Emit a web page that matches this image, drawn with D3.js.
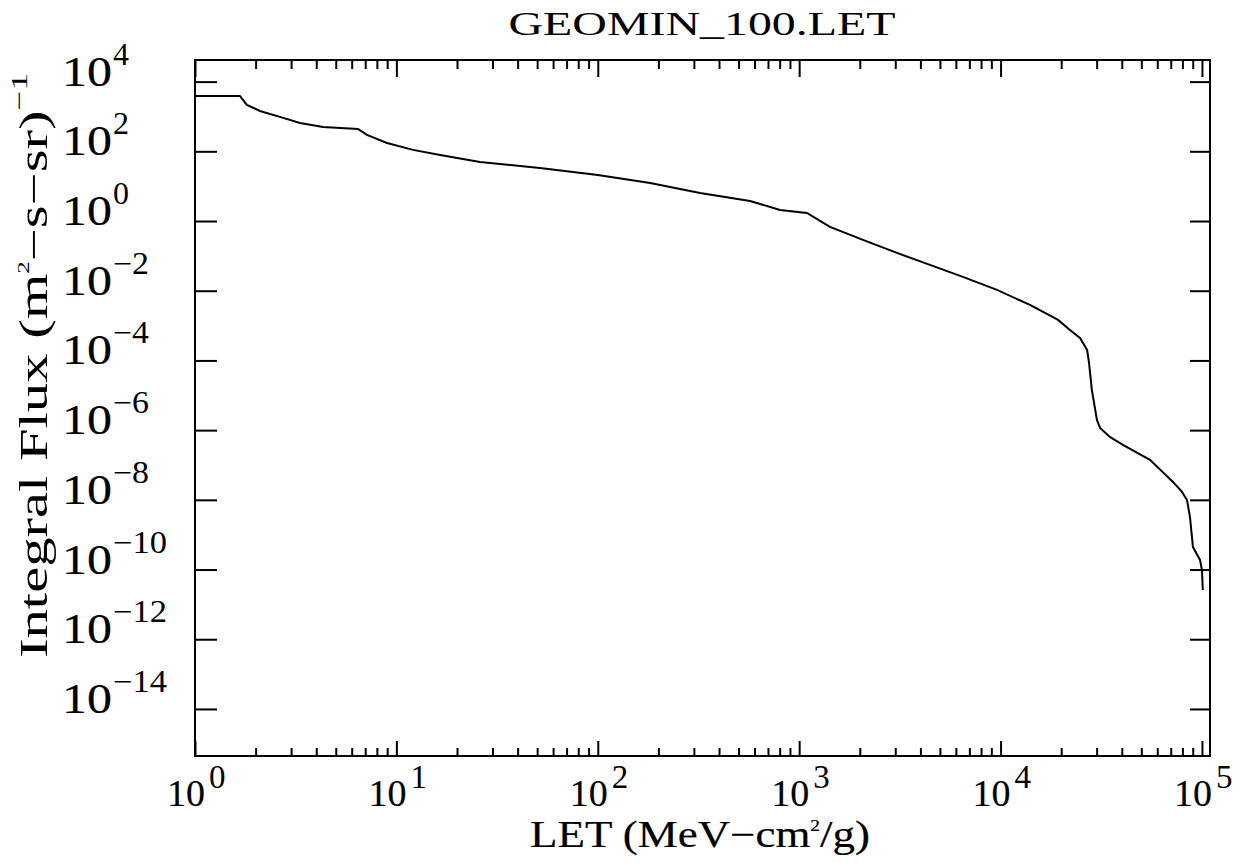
<!DOCTYPE html>
<html><head><meta charset="utf-8">
<script src="https://cdn.jsdelivr.net/npm/d3@7"></script>
<style>body{margin:0;background:#fff}</style>
</head><body><svg id="c" width="1249" height="863"></svg>
<script>
const letValues = [1, 1.67, 1.81, 2.10, 2.64, 3.32, 4.32, 6.45, 7.14, 8.98,
  12.1, 16.5, 26.0, 51.6, 100, 182, 322, 570, 803, 1093,
  1422, 2074, 3060, 4460, 6500, 9600, 14000, 19300, 22100, 24800, 26900, 27500,
  28400, 30100, 31200, 34900, 40500, 55200, 71800, 79600, 84300, 87200,
  90200, 97800, 100000, 101000];
const fluxValues = [3890, 3890, 2140, 1440, 971, 653, 501, 440, 296, 174,
  110, 78.9, 49.6, 33.4, 21.0, 12.4, 6.40, 3.77, 2.08, 1.71,
  0.677, 0.287, 0.1216, 0.0550, 0.0249, 0.01054, 3.91e-3, 1.45e-3, 7.5e-4, 4.43e-4, 2.0e-4, 8.47e-5,
  1.42e-5, 1.96e-6, 1.16e-6, 6.38e-7, 3.76e-7, 1.40e-7, 3.27e-8, 1.69e-8, 9.9e-9, 3.23e-9,
  4.45e-10, 1.89e-10, 9.7e-11, 2.6e-11];
const xMajorExps = [0, 1, 2, 3, 4, 5];
const yMajorExps = [4, 2, 0, -2, -4, -6, -8, -10, -12, -14];
const titleText = "GEOMIN_100.LET";

const svg = d3.select("#c");
const L = 195, R = 1210, T = 60, B = 756;
const font = "'Liberation Serif','DejaVu Serif',serif";
const x = d3.scaleLog().domain([1, Math.pow(10, 5.04)]).range([L, R]);
const y = d3.scaleLog().domain([Math.pow(10, -15.35), Math.pow(10, 4.62)]).range([B, T]);

const xMajor = xMajorExps.map(e => Math.pow(10, e));
const xMinor = [];
xMajorExps.forEach(e => { for (let k = 2; k <= 9; k++) { const v = k * Math.pow(10, e); if (v <= x.domain()[1]) xMinor.push(v); } });
const yMajor = yMajorExps.map(e => Math.pow(10, e));

function styleAxis(g) {
  g.select(".domain").remove();
  g.selectAll(".tick line").attr("stroke", "#000").attr("stroke-width", 2);
  g.selectAll(".tick text").remove();
}
svg.append("g").attr("transform", `translate(0,${B})`).call(d3.axisBottom(x).tickValues(xMajor).tickSize(-15).tickFormat("")).call(styleAxis);
svg.append("g").attr("transform", `translate(0,${B})`).call(d3.axisBottom(x).tickValues(xMinor).tickSize(-8).tickFormat("")).call(styleAxis);
svg.append("g").attr("transform", `translate(0,${T})`).call(d3.axisTop(x).tickValues(xMajor).tickSize(-17).tickFormat("")).call(styleAxis);
svg.append("g").attr("transform", `translate(0,${T})`).call(d3.axisTop(x).tickValues(xMinor).tickSize(-9).tickFormat("")).call(styleAxis);
svg.append("g").attr("transform", `translate(${L},0)`).call(d3.axisLeft(y).tickValues(yMajor).tickSize(-22).tickFormat("")).call(styleAxis);
svg.append("g").attr("transform", `translate(${R},0)`).call(d3.axisRight(y).tickValues(yMajor).tickSize(-20).tickFormat("")).call(styleAxis);

svg.append("rect").attr("x", L).attr("y", T).attr("width", R - L).attr("height", B - T)
  .attr("fill", "none").attr("stroke", "#000").attr("stroke-width", 2);

const fmtExp = e => (e < 0 ? "\u2212" + Math.abs(e) : String(e));

// y tick labels
yMajorExps.forEach(e => {
  const py = y(Math.pow(10, e));
  svg.append("text").attr("x", 62).attr("y", py + 4).attr("font-family", font).attr("font-size", 43)
    .attr("stroke", "#000").attr("stroke-width", 0.2)
    .attr("textLength", 50).attr("lengthAdjust", "spacingAndGlyphs").text("10");
  const s = fmtExp(e);
  svg.append("text").attr("x", 113).attr("y", py - 17).attr("font-family", font).attr("font-size", 31)
    .attr("textLength", s.length === 1 ? 16 : (s.length === 2 ? 36 : 54)).attr("lengthAdjust", "spacingAndGlyphs").text(s);
});
// x tick labels
xMajorExps.forEach(e => {
  const px = x(Math.pow(10, e));
  svg.append("text").attr("x", px + 10).attr("y", 806).attr("text-anchor", "end").attr("font-family", font)
    .attr("stroke", "#000").attr("stroke-width", 0.2)
    .attr("font-size", 38).attr("textLength", 38).attr("lengthAdjust", "spacingAndGlyphs").text("10");
  svg.append("text").attr("x", px + 14).attr("y", 788).attr("font-family", font).attr("font-size", 33)
    .text(fmtExp(e));
});

// title
svg.append("text").attr("x", 702).attr("y", 35).attr("text-anchor", "middle").attr("font-family", font)
  .attr("font-size", 34).attr("textLength", 387).attr("lengthAdjust", "spacingAndGlyphs").text(titleText);

// x axis title
const xt = svg.append("text").attr("x", 700).attr("y", 847).attr("text-anchor", "middle").attr("font-family", font)
  .attr("stroke", "#000").attr("stroke-width", 0.2)
  .attr("font-size", 37).attr("textLength", 340).attr("lengthAdjust", "spacingAndGlyphs");
xt.append("tspan").text("LET (MeV\u2212cm");
xt.append("tspan").attr("font-size", 16).attr("dy", -16).text("2");
xt.append("tspan").attr("dy", 16).text("/g)");

// y axis title
const yt = svg.append("text").attr("transform", "translate(47,658) rotate(-90)").attr("font-family", font)
  .attr("font-size", 40).attr("textLength", 585).attr("lengthAdjust", "spacingAndGlyphs");
yt.append("tspan").text("Integral Flux (m");
yt.append("tspan").attr("font-size", 17).attr("dy", -18).text("2");
yt.append("tspan").attr("dy", 18).text("\u2212s\u2212sr)");
yt.append("tspan").attr("font-size", 24).attr("dy", -20).text("\u22121");

// data line
const pts = letValues.map((v, i) => [v, fluxValues[i]]);
svg.append("path").datum(pts).attr("fill", "none").attr("stroke", "#000").attr("stroke-width", 2)
  .attr("d", d3.line().x(d => x(d[0])).y(d => y(d[1])));
</script></body></html>
